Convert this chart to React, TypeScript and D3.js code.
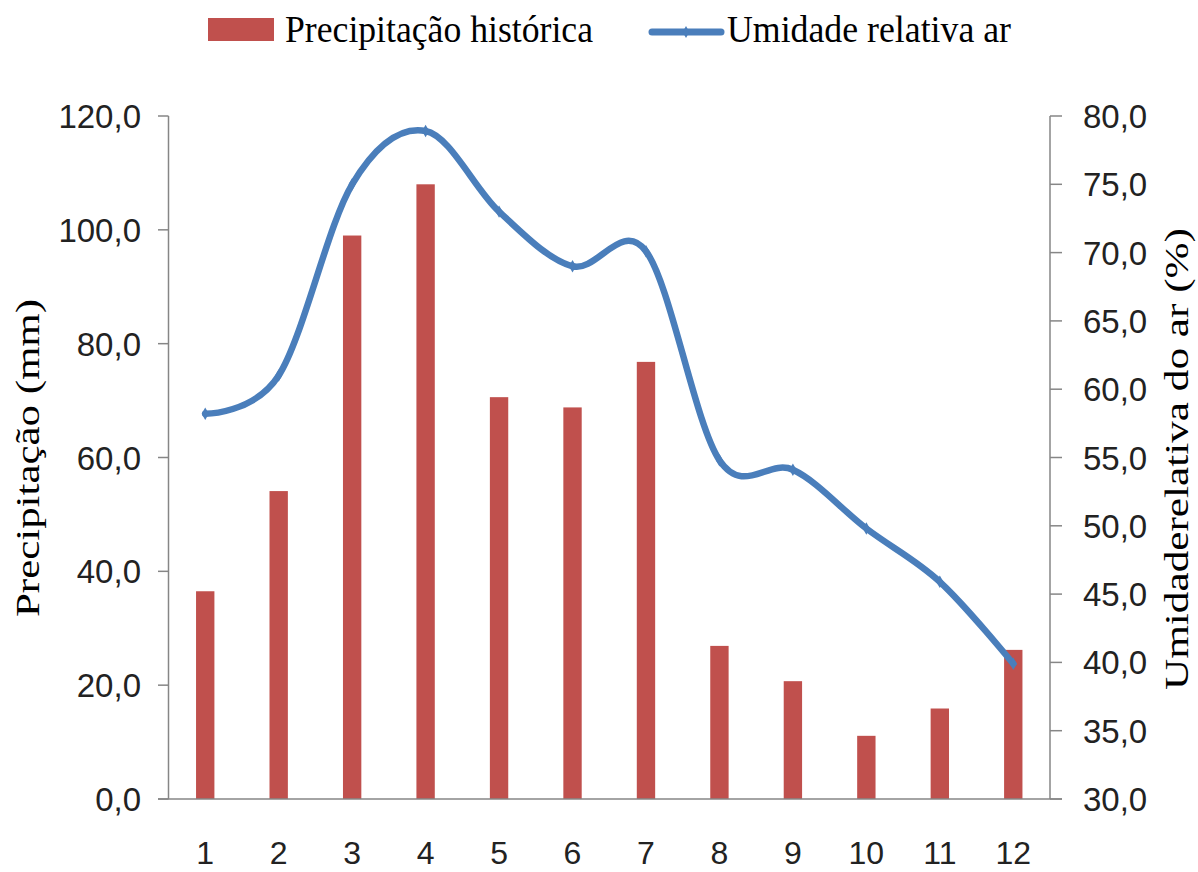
import React from "react";
import * as d3 from "d3";

const months = ["1", "2", "3", "4", "5", "6", "7", "8", "9", "10", "11", "12"];
const precipitation = [36.5, 54.1, 99.0, 108.0, 70.6, 68.8, 76.8, 26.9, 20.7, 11.1, 15.9, 26.2];
const humidity = [58.2, 61.0, 75.0, 78.9, 73.0, 69.0, 70.1, 54.8, 54.1, 49.8, 45.9, 39.9];
const leftTicks = [0, 20, 40, 60, 80, 100, 120];
const rightTicks = [30, 35, 40, 45, 50, 55, 60, 65, 70, 75, 80];

const W = 1198;
const H = 872;
const PL = 168.5;
const PR = 1050;
const PT = 116;
const PB = 799;

const BAR = "#C0504D";
const LINE = "#4A7EBB";
const AXIS = "#868686";
const SANS = "'Liberation Sans', Arial, sans-serif";
const SERIF = "'Liberation Serif', 'Times New Roman', serif";

const fmt = (v: number) => v.toFixed(1).replace(".", ",");

export default function App() {
  const x = d3.scaleBand<string>().domain(months).range([PL, PR]).paddingInner(0.75).paddingOuter(0.375);
  const yL = d3.scaleLinear().domain([0, 120]).range([PB, PT]);
  const yR = d3.scaleLinear().domain([30, 80]).range([PB, PT]);
  const bw = x.bandwidth();
  const cx = (m: string) => (x(m) as number) + bw / 2;

  const line = d3
    .line<number>()
    .x((_, i) => cx(months[i]))
    .y((d) => yR(d))
    .curve(d3.curveCardinal.tension(0));

  return (
    <svg width={W} height={H} style={{ position: "absolute", left: 0, top: 0, background: "#fff" }}>
      {/* Legend */}
      <rect x={208} y={18} width={66} height={23} fill={BAR} />
      <text x={285} y={42} fontFamily={SERIF} fontSize={38} textLength={308} lengthAdjust="spacingAndGlyphs" fill="#000">
        Precipitação histórica
      </text>
      <line x1={652} x2={721} y1={32} y2={32} stroke={LINE} strokeWidth={7} strokeLinecap="round" />
      <path d={d3.symbol().type(d3.symbolDiamond).size(40)() as string} transform="translate(686,32)" fill={LINE} />
      <text x={727} y={42} fontFamily={SERIF} fontSize={38} textLength={284} lengthAdjust="spacingAndGlyphs" fill="#000">
        Umidade relativa ar
      </text>

      {/* Bars */}
      {precipitation.map((v, i) => (
        <rect key={i} x={x(months[i])} y={yL(v)} width={bw} height={PB - yL(v)} fill={BAR} />
      ))}

      {/* Axes */}
      <line x1={PL} x2={PL} y1={PT} y2={PB} stroke={AXIS} strokeWidth={1.5} />
      <line x1={PR} x2={PR} y1={PT} y2={PB} stroke={AXIS} strokeWidth={1.5} />
      <line x1={158} x2={1062} y1={PB} y2={PB} stroke={AXIS} strokeWidth={1.5} />
      {leftTicks.map((t) => (
        <g key={"l" + t}>
          <line x1={158} x2={PL} y1={yL(t)} y2={yL(t)} stroke={AXIS} strokeWidth={1.5} />
          <text x={141} y={yL(t) + 12} textAnchor="end" fontFamily={SANS} fontSize={33} fill="#222">
            {fmt(t)}
          </text>
        </g>
      ))}
      {rightTicks.map((t) => (
        <g key={"r" + t}>
          <line x1={PR} x2={1062} y1={yR(t)} y2={yR(t)} stroke={AXIS} strokeWidth={1.5} />
          <text x={1083} y={yR(t) + 12} textAnchor="start" fontFamily={SANS} fontSize={33} fill="#222">
            {fmt(t)}
          </text>
        </g>
      ))}
      {months.map((m) => (
        <text key={"x" + m} x={cx(m)} y={864} textAnchor="middle" fontFamily={SANS} fontSize={32} fill="#222">
          {m}
        </text>
      ))}

      {/* Line */}
      <path d={line(humidity) as string} fill="none" stroke={LINE} strokeWidth={6.5} strokeLinejoin="round" strokeLinecap="round" />
      {humidity.map((v, i) => (
        <path
          key={"m" + i}
          d={d3.symbol().type(d3.symbolDiamond).size(45)() as string}
          transform={`translate(${cx(months[i])},${yR(v)})`}
          fill={LINE}
        />
      ))}

      {/* Axis titles */}
      <text
        transform="translate(39,458) rotate(-90)"
        textAnchor="middle"
        fontFamily={SERIF}
        fontSize={34}
        textLength={318}
        lengthAdjust="spacingAndGlyphs"
        fill="#000"
      >
        Precipitação (mm)
      </text>
      <text
        transform="translate(1188,459) rotate(-90)"
        textAnchor="middle"
        fontFamily={SERIF}
        fontSize={34}
        textLength={462}
        lengthAdjust="spacingAndGlyphs"
        fill="#000"
      >
        Umidaderelativa do ar (%)
      </text>
    </svg>
  );
}
